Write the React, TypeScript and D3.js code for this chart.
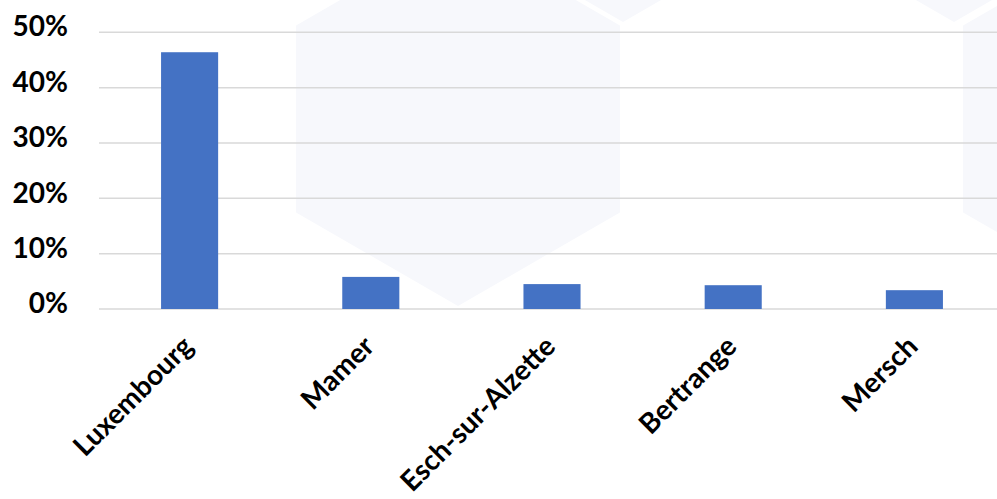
import React from "react";
import * as d3 from "d3";

const categories = ["Luxembourg", "Mamer", "Esch-sur-Alzette", "Bertrange", "Mersch"];
const values = [46.4, 5.8, 4.5, 4.3, 3.4];
const yTicks = [0, 10, 20, 30, 40, 50];

const hexCenters: [number, number][] = [
  [458, 119],
  [623, -165],
  [954, -165],
  [1125, 119],
];

const W = 997;
const H = 499;

export default function App() {
  const x = d3.scaleBand<string>().domain(categories).range([99, 1005]).padding(0);
  const y = d3.scaleLinear().domain([0, 50]).range([309, 32.3]);
  const barW = x.bandwidth() * 0.315;
  const R = 187;
  const hexPath = (cx: number, cy: number) => {
    const pts = d3.range(6).map((i) => {
      const a = (Math.PI / 3) * i - Math.PI / 2;
      return [cx + R * Math.cos(a), cy + R * Math.sin(a)] as [number, number];
    });
    return d3.line()(pts.concat([pts[0]])) as string;
  };
  const font = "Lato, 'Open Sans', sans-serif";
  return (
    <svg width={W} height={H} style={{ position: "absolute", left: 0, top: 0, background: "#fff" }}>
      <rect x={0} y={0} width={W} height={H} fill="#fff" />
      {hexCenters.map(([cx, cy], i) => (
        <path key={i} d={hexPath(cx, cy)} fill="#f7f8fc" />
      ))}
      {yTicks.map((t) => (
        <line key={t} x1={99} x2={W} y1={y(t)} y2={y(t)} stroke="#d9d9d9" strokeWidth={1.5} />
      ))}
      {yTicks.map((t) => (
        <text
          key={"l" + t}
          x={68}
          y={y(t) - 3}
          textAnchor="end"
          dominantBaseline="middle"
          fontFamily={font}
          fontWeight="bold"
          fontSize={28}
          fill="#000"
        >
          {t}%
        </text>
      ))}
      {categories.map((c, i) => (
        <rect
          key={c}
          x={(x(c) as number) + x.bandwidth() / 2 - barW / 2}
          y={y(values[i])}
          width={barW}
          height={y(0) - y(values[i])}
          fill="#4472c4"
        />
      ))}
      {categories.map((c) => {
        const cx = (x(c) as number) + x.bandwidth() / 2;
        return (
          <text
            key={"x" + c}
            transform={`translate(${cx},${343}) rotate(-45)`}
            textAnchor="end"
            dominantBaseline="middle"
            fontFamily={font}
            fontWeight="bold"
            fontSize={28}
            fill="#000"
          >
            {c}
          </text>
        );
      })}
    </svg>
  );
}
